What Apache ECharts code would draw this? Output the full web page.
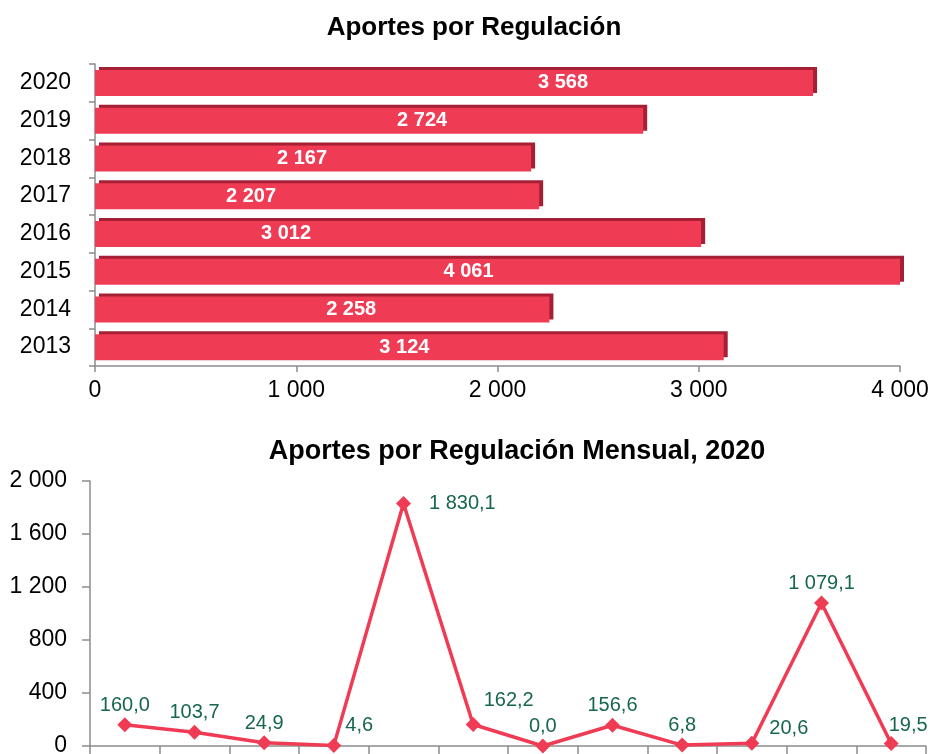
<!DOCTYPE html>
<html>
<head>
<meta charset="utf-8">
<script src="https://cdn.jsdelivr.net/npm/echarts@6/dist/echarts.min.js"></script>
<style>
html,body{margin:0;padding:0;background:#fff;overflow:hidden;}
#chart{width:930px;height:754px;}
</style>
</head>
<body>
<div id="chart"></div>
<script>
// ---- Data ----
var years = ['2013', '2014', '2015', '2016', '2017', '2018', '2019', '2020'];
var yearValues = [3124, 2258, 4061, 3012, 2207, 2167, 2724, 3568];
var barTicks = [0, 1000, 2000, 3000, 4000];

var months = ['Ene', 'Feb', 'Mar', 'Abr', 'May', 'Jun', 'Jul', 'Ago', 'Sep', 'Oct', 'Nov', 'Dic'];
var monthValues = [160.0, 103.7, 24.9, 4.6, 1830.1, 162.2, 0.0, 156.6, 6.8, 20.6, 1079.1, 19.5];
var lineTicks = [0, 400, 800, 1200, 1600, 2000];

// ---- Label placement (styling, not data) ----
var barLabelShift = [-5, 29, -29, -112, -66, -11, 53, 109];
var lineLabelPlacement = [
  {position: 'top', offset: [0, 0], distance: 2},
  {position: 'top', offset: [0, 0], distance: 2},
  {position: 'top', offset: [0, 0], distance: 2},
  {position: 'right', offset: [0, -20], distance: 4},
  {position: 'right', offset: [0, 0], distance: 18},
  {position: 'right', offset: [0, -24], distance: 3},
  {position: 'top', offset: [0, 0], distance: 2},
  {position: 'top', offset: [0, 0], distance: 2},
  {position: 'top', offset: [0, 0], distance: 2},
  {position: 'right', offset: [0, -15], distance: 10},
  {position: 'top', offset: [0, 0], distance: 2},
  {position: 'top', offset: [17, 2], distance: 2}
];

function fmt(v, dec) {
  var s = Number(v).toFixed(dec);
  var parts = s.split('.');
  parts[0] = parts[0].replace(/\B(?=(\d{3})+(?!\d))/g, ' ');
  return parts.join(',');
}

var RED = '#F03B55';
var DARK = '#A51F35';
var GREEN = '#17664E';
var AXIS = '#8C8C8C';
var FONT = '"Liberation Sans", Arial, sans-serif';

var barData = yearValues.map(function (v, i) {
  return {value: v, label: {offset: [barLabelShift[i], 0]}};
});
var lineData = monthValues.map(function (v, i) {
  var p = lineLabelPlacement[i];
  var lab = {position: p.position, offset: p.offset};
  if (p.distance !== undefined) lab.distance = p.distance;
  return {value: v, label: lab};
});

var chart = echarts.init(document.getElementById('chart'), null, {renderer: 'canvas'});
chart.setOption({
  backgroundColor: '#fff',
  animation: false,
  textStyle: {fontFamily: FONT},
  title: [
    {text: 'Aportes por Regulación', left: 469, top: 10, textAlign: 'center',
     textStyle: {fontFamily: FONT, fontSize: 26, fontWeight: 'bold', color: '#000'}},
    {text: 'Aportes por Regulación Mensual, 2020', left: 512, top: 433, textAlign: 'center',
     textStyle: {fontFamily: FONT, fontSize: 27, fontWeight: 'bold', color: '#000'}}
  ],
  grid: [
    {left: 95, right: 30, top: 64, bottom: 388, containLabel: false, outerBoundsMode: 'none'},
    {left: 90, right: 4, top: 481, bottom: 8, containLabel: false, outerBoundsMode: 'none'}
  ],
  xAxis: [
    {gridIndex: 0, type: 'value', min: barTicks[0], max: barTicks[barTicks.length - 1], interval: 1000,
     axisLine: {show: true, lineStyle: {color: AXIS, width: 1.5}},
     axisTick: {show: true, length: 6, lineStyle: {color: AXIS, width: 1.5}},
     splitLine: {show: false},
     axisLabel: {color: '#000', fontSize: 23, fontFamily: FONT, margin: 13,
                 formatter: function (v) { return fmt(v, 0); }}},
    {gridIndex: 1, type: 'category', data: months, boundaryGap: true,
     axisLine: {show: true, lineStyle: {color: AXIS, width: 1.5}},
     axisTick: {show: true, alignWithLabel: false, length: 8, lineStyle: {color: AXIS, width: 1.5}},
     axisLabel: {show: false},
     splitLine: {show: false}}
  ],
  yAxis: [
    {gridIndex: 0, type: 'category', data: years,
     axisLine: {show: true, lineStyle: {color: AXIS, width: 1.5}},
     axisTick: {show: true, alignWithLabel: false, length: 6, lineStyle: {color: AXIS, width: 1.5}},
     axisLabel: {color: '#000', fontSize: 23, fontFamily: FONT, margin: 24},
     splitLine: {show: false}},
    {gridIndex: 1, type: 'value', min: lineTicks[0], max: lineTicks[lineTicks.length - 1], interval: 400,
     axisLine: {show: true, lineStyle: {color: AXIS, width: 1.5}},
     axisTick: {show: true, length: 8, lineStyle: {color: AXIS, width: 1.5}},
     splitLine: {show: false},
     axisLabel: {color: '#000', fontSize: 23, fontFamily: FONT, margin: 23,
                 formatter: function (v) { return fmt(v, 0); }}}
  ],
  series: [
    {type: 'bar', xAxisIndex: 0, yAxisIndex: 0, data: barData, barWidth: 26,
     itemStyle: {color: RED, shadowColor: DARK, shadowBlur: 0, shadowOffsetX: 4, shadowOffsetY: -3},
     label: {show: true, position: 'inside', color: '#fff', fontWeight: 'bold', fontSize: 20, fontFamily: FONT,
             formatter: function (p) { return fmt(p.value, 0); }}},
    {type: 'line', xAxisIndex: 1, yAxisIndex: 1, data: lineData,
     symbol: 'diamond', symbolSize: 15, showSymbol: true,
     lineStyle: {color: RED, width: 3.5},
     itemStyle: {color: RED},
     label: {show: true, color: GREEN, fontSize: 20, fontFamily: FONT,
             formatter: function (p) { return fmt(p.value, 1); }}}
  ]
});
</script>
</body>
</html>
